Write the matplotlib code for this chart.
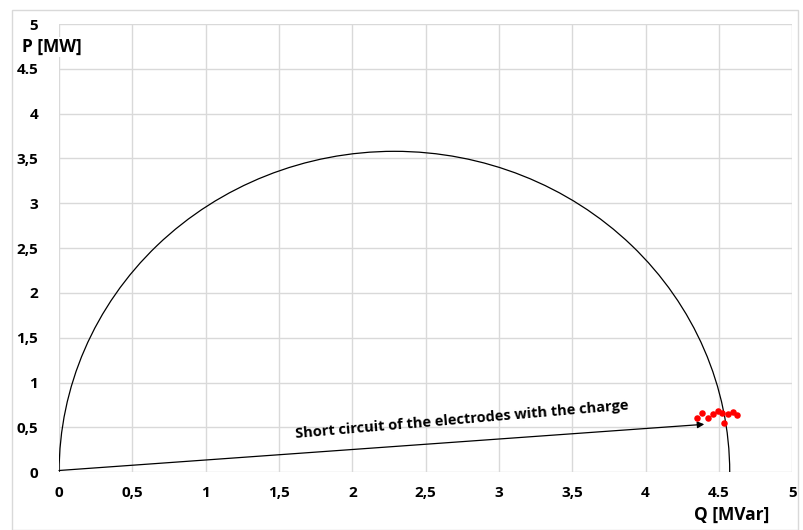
import matplotlib
matplotlib.use("Agg")
import matplotlib.pyplot as plt
from matplotlib.patches import Arc, Rectangle

# ticks
x_ticks = [0, 0.5, 1, 1.5, 2, 2.5, 3, 3.5, 4, 4.5, 5]
x_tick_labels = ["0", "0,5", "1", "1,5", "2", "2,5", "3", "3,5", "4", "4.5", "5"]
y_ticks = [0, 0.5, 1, 1.5, 2, 2.5, 3, 3.5, 4, 4.5, 5]
y_tick_labels = ["0", "0,5", "1", "1,5", "2", "2,5", "3", "3,5", "4", "4.5", "5"]

# circle diagram (half ellipse in data units)
circle_center = (2.287, 0.0)
circle_width = 4.573
circle_height = 7.16

# measured operating points (Q, P)
q_points = [4.348, 4.386, 4.427, 4.457, 4.491, 4.518, 4.534, 4.559, 4.593, 4.621]
p_points = [0.609, 0.664, 0.609, 0.650, 0.687, 0.664, 0.546, 0.647, 0.669, 0.635]

# short-circuit arrow
arrow_start = (0.0, 0.02)
arrow_end = (4.40, 0.535)
arrow_text = "Short circuit of the electrodes with the charge"

plt.rcParams["font.family"] = ["Open Sans", "DejaVu Sans"]

fig = plt.figure(figsize=(8.04, 5.30), dpi=100)
fig.patches.append(Rectangle((12 / 804, 0), 786 / 804, 1 - 10 / 530, transform=fig.transFigure,
                             fill=False, edgecolor="#d9d9d9", linewidth=1))
ax = fig.add_axes([0.0734, 0.1089, 0.9120, 0.8458])

ax.set_xlim(0, 5)
ax.set_ylim(0, 5)
ax.set_xticks(x_ticks)
ax.set_xticklabels(x_tick_labels)
ax.set_yticks(y_ticks)
ax.set_yticklabels(y_tick_labels)
for lbl in ax.get_xticklabels() + ax.get_yticklabels():
    lbl.set_fontweight("bold")
    lbl.set_fontsize(11)
ax.tick_params(axis="x", length=0, pad=10)
ax.tick_params(axis="y", length=0, pad=15)
ax.grid(True, color="#d9d9d9", linewidth=1)
ax.set_axisbelow(True)
for s in ax.spines.values():
    s.set_visible(False)

ax.add_patch(Arc(circle_center, circle_width, circle_height, theta1=0, theta2=180,
                 color="black", linewidth=0.9))

ax.scatter(q_points, p_points, s=22, color="#ff0000", zorder=5, linewidths=0)

ax.annotate("", xy=arrow_end, xytext=arrow_start,
            arrowprops=dict(arrowstyle="-|>", color="black", lw=0.9, mutation_scale=10,
                            shrinkA=0, shrinkB=0))
ax.text(2.75, 0.59, arrow_text, rotation=4.9, ha="center", va="center",
        fontsize=10.5, fontweight="bold", rotation_mode="anchor")

fig.text(52 / 804, 1 - 47 / 530, "P [MW]", ha="center", va="center", fontsize=12.5,
         fontweight="bold", bbox=dict(facecolor="white", edgecolor="none", pad=1))
fig.text(732 / 804, 1 - 515 / 530, "Q [MVar]", ha="center", va="center", fontsize=12.5,
         fontweight="bold")

fig.savefig("out.png", dpi=100)
